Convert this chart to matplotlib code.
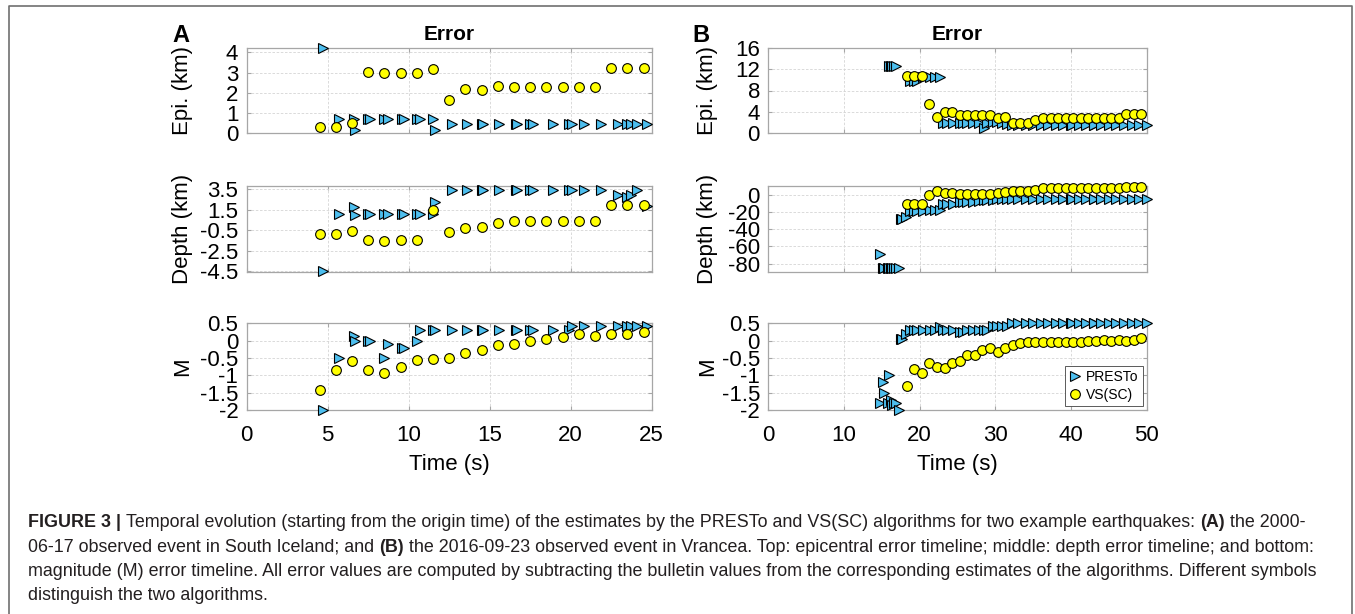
import numpy as np
import matplotlib
matplotlib.use('Agg')
import matplotlib.pyplot as plt
from matplotlib.lines import Line2D

plt.rcParams['font.family'] = ['Liberation Sans', 'DejaVu Sans']
plt.rcParams['axes.unicode_minus'] = False

# ---- panel A: 2000-06-17 South Iceland ----
a_presto_t = [4.7, 5.7, 6.6, 6.7, 7.5, 7.6, 8.5, 8.7, 9.6, 9.7, 10.5, 10.7, 11.5, 11.6,
              12.7, 13.6, 14.5, 14.6, 15.6, 16.6, 16.7, 17.5, 17.7, 18.9, 19.9, 20.1,
              20.8, 21.9, 22.9, 23.5, 23.7, 24.1, 24.7]
a_presto_epi = [4.2, 0.7, 0.7, 0.15, 0.7, 0.7, 0.7, 0.7, 0.7, 0.7, 0.7, 0.7, 0.7, 0.15,
                0.45, 0.45, 0.45, 0.45, 0.45, 0.45, 0.45, 0.45, 0.45, 0.45, 0.45, 0.45,
                0.45, 0.45, 0.45, 0.45, 0.45, 0.45, 0.45]
a_presto_depth = [-4.5, 1.1, 1.8, 0.95, 1.1, 1.1, 1.1, 1.1, 1.1, 1.1, 1.1, 1.1, 1.1, 2.3,
                  3.45, 3.45, 3.45, 3.45, 3.45, 3.45, 3.45, 3.45, 3.45, 3.45, 3.45, 3.45,
                  3.45, 3.45, 2.9, 2.7, 2.9, 3.45, 1.9]
a_presto_mag = [-2.0, -0.5, 0.12, 0.0, 0.0, 0.0, -0.5, -0.1, -0.2, -0.2, 0.0, 0.3, 0.3, 0.3,
                0.3, 0.3, 0.3, 0.3, 0.3, 0.3, 0.3, 0.3, 0.3, 0.3, 0.3, 0.42,
                0.42, 0.42, 0.42, 0.42, 0.42, 0.42, 0.42]

a_vs_t = [4.5, 5.5, 6.5, 7.5, 8.5, 9.5, 10.5, 11.5, 12.5, 13.5, 14.5, 15.5, 16.5, 17.5,
          18.5, 19.5, 20.5, 21.5, 22.5, 23.5, 24.5]
a_vs_epi = [0.33, 0.33, 0.49, 3.05, 3.0, 2.98, 2.98, 3.16, 1.65, 2.19, 2.14, 2.34, 2.29,
            2.29, 2.29, 2.29, 2.29, 2.29, 3.24, 3.24, 3.24]
a_vs_depth = [-0.89, -0.89, -0.57, -1.48, -1.54, -1.48, -1.48, 1.45, -0.63, -0.24, -0.17,
              0.25, 0.38, 0.38, 0.38, 0.38, 0.38, 0.38, 1.94, 1.94, 1.94]
a_vs_mag = [-1.42, -0.86, -0.6, -0.86, -0.93, -0.76, -0.55, -0.54, -0.5, -0.35, -0.28,
            -0.13, -0.1, 0.0, 0.04, 0.1, 0.18, 0.14, 0.19, 0.19, 0.24]

# ---- panel B: 2016-09-23 Vrancea ----
nan = np.nan
b_presto_t = [14.8, 15.1, 15.3, 15.8, 16.0, 16.2, 16.4, 16.6, 16.9, 17.3, 17.6, 17.7, 18.2,
              18.7, 19.2, 19.6, 20.5, 21.4, 22.0, 22.7, 23.1, 23.6, 24.4, 25.3, 25.7,
              26.3, 27.1, 27.8, 28.5, 28.9, 29.7, 30.2, 30.9, 31.6, 32.2, 33.0, 34.0,
              35.0, 36.0, 37.0, 38.0, 39.0, 40.0, 40.1, 41.0, 42.0, 43.0, 43.1, 44.0,
              45.0, 46.0, 47.0, 48.0, 49.0, 50.0]
b_presto_epi = [nan, nan, nan, nan, 12.6, 12.6, 12.6, 12.6, 12.6, nan, nan, nan, nan,
                9.8, 9.8, 9.8, 10.5, 10.5, 10.5, 10.5, 1.9, 1.9, 1.9, 1.9, 1.9,
                1.9, 1.9, 1.9, 0.9, 1.9, 2.2, 2.2, 2.0, 1.8, 1.6, 1.6, 1.6,
                1.6, 1.6, 1.6, 1.6, 1.6, 1.6, 1.6, 1.6, 1.6, 1.6, 1.6, 1.6,
                1.6, 1.6, 1.6, 1.6, 1.6, 1.6]
b_presto_depth = [-69, -85, -85, -85, -85, -85, -85, -85, -85, -85, -28, -28, -26,
                  -19, -19, -19, -19, -18, -18, -18, -10.4, -10.4, -10.4, -8.5, -8.5,
                  -8.5, -8, -7, -6.5, -5.8, -5.8, -5.5, -5.5, -5.4, -5.4, -5.4, -5.4,
                  -5.4, -5.4, -5.4, -5.4, -5.4, -5.4, -5.4, -5.4, -5.4, -5.4, -5.4, -5.4,
                  -5.4, -5.4, -5.4, -5.4, -5.4, -5.4]
b_presto_mag = [-1.8, -1.2, -1.5, -1.8, -1.0, -1.7, -1.85, -1.8, -1.8, -2.0, 0.06, 0.06, 0.19,
                0.31, 0.31, 0.31, 0.31, 0.31, 0.31, 0.4, 0.31, 0.31, 0.31, 0.24, 0.24,
                0.31, 0.31, 0.31, 0.31, 0.31, 0.43, 0.43, 0.43, 0.43, 0.5, 0.5, 0.5,
                0.5, 0.5, 0.5, 0.5, 0.5, 0.5, 0.5, 0.5, 0.5, 0.5, 0.5, 0.5,
                0.5, 0.5, 0.5, 0.5, 0.5, 0.5]

b_vs_t = [18.3, 19.3, 20.3, 21.3, 22.3, 23.3, 24.3, 25.3, 26.3, 27.3, 28.3, 29.3, 30.3,
          31.3, 32.3, 33.3, 34.3, 35.3, 36.3, 37.3, 38.3, 39.3, 40.3, 41.3, 42.3, 43.3,
          44.3, 45.3, 46.3, 47.3, 48.3, 49.3]
b_vs_epi = [10.8, 10.8, 10.8, 5.5, 3.1, 4.0, 4.0, 3.4, 3.4, 3.4, 3.4, 3.4, 2.8, 3.0, 2.0,
            1.9, 1.9, 2.4, 2.8, 2.8, 2.8, 2.8, 2.8, 2.8, 2.8, 2.8, 2.8, 2.8, 2.8, 3.6,
            3.6, 3.6]
b_vs_depth = [-10.4, -10.4, -10.4, 0.0, 4.3, 2.3, 2.3, 1.2, 0.4, 0.4, 0.4, 1.2, 2.3, 3.1,
              3.9, 3.9, 4.3, 5.8, 7.7, 7.7, 7.7, 7.7, 7.7, 7.7, 7.7, 7.7, 7.7, 7.7, 7.7,
              8.3, 8.3, 8.5]
b_vs_mag = [-1.3, -0.83, -0.93, -0.64, -0.76, -0.79, -0.64, -0.59, -0.4, -0.42, -0.27,
            -0.2, -0.33, -0.2, -0.13, -0.08, -0.03, -0.03, -0.03, -0.03, -0.03, -0.05,
            -0.05, -0.03, -0.02, -0.02, 0.02, -0.02, 0.02, -0.02, 0.02, 0.07]

ylabels = ['Epi. (km)', 'Depth (km)', 'M']
a_yticks = [[0, 1, 2, 3, 4], [-4.5, -2.5, -0.5, 1.5, 3.5], [-2, -1.5, -1, -0.5, 0, 0.5]]
b_yticks = [[0, 4, 8, 12, 16], [-80, -60, -40, -20, 0], [-2, -1.5, -1, -0.5, 0, 0.5]]
a_ylims = [(0, 4.23), (-4.62, 3.82), (-2, 0.5)]
b_ylims = [(0, 16), (-90, 10), (-2, 0.5)]

W, H = 1355, 614
fig = plt.figure(figsize=(W / 100, H / 100), dpi=100)

cols = [(246.7, 651.7), (768.3, 1146.7)]
rows = [(47.7, 133.3), (186.0, 272.3), (323.3, 410.0)]


def fmt(v):
    return ('%g' % v)


panels = [
    (cols[0], [0, 25], [0, 5, 10, 15, 20, 25], a_ylims, a_yticks,
     a_presto_t, [a_presto_epi, a_presto_depth, a_presto_mag],
     a_vs_t, [a_vs_epi, a_vs_depth, a_vs_mag]),
    (cols[1], [0, 50], [0, 10, 20, 30, 40, 50], b_ylims, b_yticks,
     b_presto_t, [b_presto_epi, b_presto_depth, b_presto_mag],
     b_vs_t, [b_vs_epi, b_vs_depth, b_vs_mag]),
]

for p, (col, xlim, xticks, ylims, yticks, pt, pvals, vt, vvals) in enumerate(panels):
    for r in range(3):
        top, bot = rows[r]
        ax = fig.add_axes([col[0] / W, 1 - bot / H, (col[1] - col[0]) / W, (bot - top) / H])
        ax.plot(pt, pvals[r], ls='none', marker='>', ms=7.5, mfc='#4DBEEE', mec='k',
                mew=0.8, clip_on=False, label='PRESTo', zorder=3)
        ax.plot(vt, vvals[r], ls='none', marker='o', ms=7, mfc='#FFFF00', mec='k',
                mew=0.8, clip_on=False, label='VS(SC)', zorder=4)
        ax.set_xlim(xlim)
        ax.set_xticks(xticks)
        ax.set_ylim(ylims[r])
        ax.set_yticks(yticks[r])
        ax.set_yticklabels([fmt(v) for v in yticks[r]])
        ax.grid(True, color='#d4d4d4', ls=(0, (3, 2)), lw=0.6)
        ax.set_axisbelow(True)
        for s in ax.spines.values():
            s.set_color('#a6a6a6')
            s.set_linewidth(0.9)
        ax.tick_params(direction='in', length=3, width=0.8, color='#a6a6a6',
                       top=True, right=True, labelsize=16, pad=6)
        ax.tick_params(axis='x', pad=11)
        if r < 2:
            ax.set_xticklabels([])
        else:
            ax.set_xlabel('Time (s)', fontsize=16, labelpad=5.5)
        ax.set_ylabel(ylabels[r], fontsize=16)
        ax.yaxis.set_label_coords(-0.133, 0.5)
        if p == 1 and r == 2:
            leg = ax.legend(loc='lower right', fontsize=10, fancybox=False,
                            edgecolor='#404040', framealpha=1, handlelength=0.8,
                            handletextpad=0.4, borderaxespad=0.3, labelspacing=0.25,
                            borderpad=0.3)
            leg.get_frame().set_linewidth(0.6)

# panel letters and titles
fig.text(181 / W, 1 - 41.7 / H, 'A', fontsize=17, fontweight='bold', ha='center', va='baseline')
fig.text(701 / W, 1 - 41.7 / H, 'B', fontsize=17, fontweight='bold', ha='center', va='baseline')
for col in cols:
    fig.text((col[0] + col[1]) / 2 / W, 1 - 40 / H, 'Error', fontsize=15,
             fontweight='bold', ha='center', va='baseline')

# frame
fig.add_artist(Line2D([9 / W, 9 / W, 1352 / W, 1352 / W], [0, 1 - 6 / H, 1 - 6 / H, 0],
                      transform=fig.transFigure, color='#707070', lw=1.2))

# caption
caption = [
    [('FIGURE 3 |', True), ('Temporal evolution (starting from the origin time) of the estimates by the PRESTo and VS(SC) algorithms for two example earthquakes:', False),
     ('(A)', True), ('the 2000-', False)],
    [('06-17 observed event in South Iceland; and', False), ('(B)', True),
     ('the 2016-09-23 observed event in Vrancea. Top: epicentral error timeline; middle: depth error timeline; and bottom:', False)],
    [('magnitude (M) error timeline. All error values are computed by subtracting the bulletin values from the corresponding estimates of the algorithms. Different symbols', False)],
    [('distinguish the two algorithms.', False)],
]
cap_size = 12.9
baselines = [527, 551.5, 576, 600.5]
renderer = fig.canvas.get_renderer()
probe1 = fig.text(0, 0, 'a a', fontsize=cap_size)
probe2 = fig.text(0, 0, 'aa', fontsize=cap_size)
space_w = probe1.get_window_extent(renderer).width - probe2.get_window_extent(renderer).width
probe1.remove()
probe2.remove()
for line, yb in zip(caption, baselines):
    x = 28
    for txt, bold in line:
        t = fig.text(x / W, 1 - yb / H, txt, fontsize=cap_size, color='#231f20',
                     fontweight='bold' if bold else 'normal', ha='left', va='baseline')
        x += t.get_window_extent(renderer).width + space_w

fig.savefig('out.png', dpi=100)
